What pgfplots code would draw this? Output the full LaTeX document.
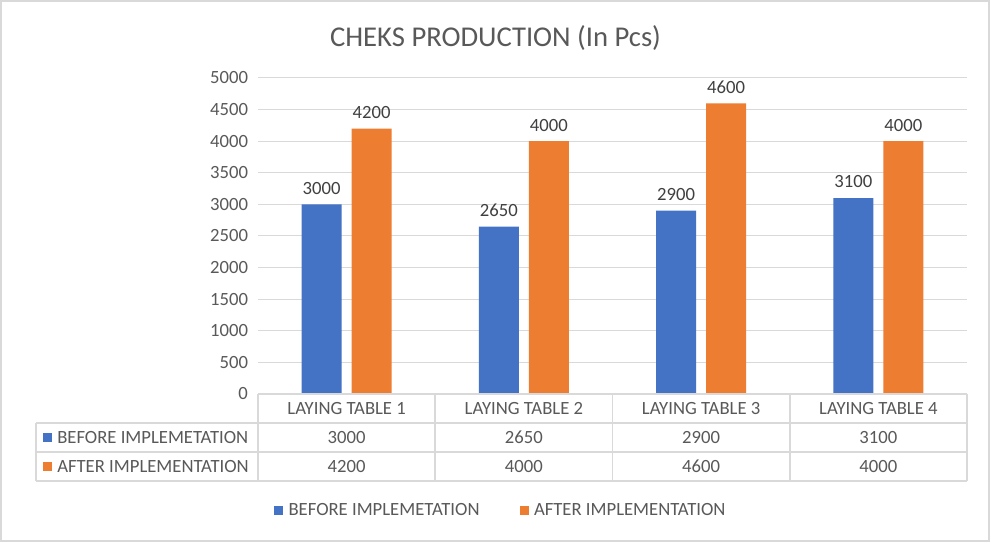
\documentclass[border=0pt]{standalone}
\usepackage{pgfplots}
\pgfplotsset{compat=1.18}
\usepackage{fontspec}
\setmainfont{Carlito}
\definecolor{cblue}{HTML}{4472C4}
\definecolor{corange}{HTML}{ED7D31}
\definecolor{ctext}{HTML}{595959}
\definecolor{cgrid}{HTML}{D9D9D9}
\definecolor{clab}{HTML}{404040}
\newcommand{\fs}{\fontsize{14}{16}\selectfont}
\begin{document}
\begin{tikzpicture}
\begin{scope}[x=0.75pt,y=0.75pt]
\useasboundingbox (0,0) rectangle (991,542);
\fill[white] (0,0) rectangle (991,542);
\draw[cgrid, line width=1.5pt] (1,1) rectangle (989,541);
\node[text=ctext, font=\fontsize{21.5}{24}\selectfont] at (495.5,504) {CHEKS PRODUCTION (In Pcs)};
\end{scope}
\begin{axis}[
  at={(193.5pt,111pt)}, anchor=south west,
  scale only axis, width=531.75pt, height=237pt,
  xmin=-0.5, xmax=3.5, ymin=0, ymax=5000,
  ybar=7.5pt, bar width=30pt,
  axis line style={draw=none},
  xtick=\empty,
  ytick={0,500,...,5000},
  ytick style={draw=none},
  ymajorgrids, grid style={cgrid, line width=0.75pt},
  yticklabel style={font=\fs, text=ctext, xshift=-4pt},
  /pgf/number format/assume math mode=true,
  /pgf/number format/1000 sep={},
  scaled y ticks=false,
  nodes near coords,
  nodes near coords style={font=\fs, text=clab, anchor=south, yshift=4pt},
  legend style={at={(0.343,-0.370)}, anchor=center, draw=none, fill=none,
    font=\fs, text=ctext, legend columns=2,
    /tikz/every even column/.append style={column sep=28pt}},
]
\addplot[fill=cblue, draw=none, legend image code/.code={\fill[cblue] (0pt,-3.4pt) rectangle (6.8pt,3.4pt);}]
  coordinates {(0,3000) (1,2650) (2,2900) (3,3100)};
\addlegendentry{\hspace{2pt}BEFORE IMPLEMETATION}
\addplot[fill=corange, draw=none, legend image code/.code={\fill[corange] (0pt,-3.4pt) rectangle (6.8pt,3.4pt);}]
  coordinates {(0,4200) (1,4000) (2,4600) (3,4000)};
\addlegendentry{\hspace{2pt}AFTER IMPLEMENTATION}
\end{axis}
\begin{scope}[x=0.75pt,y=0.75pt]
% data table
\draw[cgrid, line width=1.2pt] (258,148) -- (967,148);
\draw[cgrid, line width=1.2pt] (36,119) -- (967,119);
\draw[cgrid, line width=1.2pt] (36,90) -- (967,90);
\draw[cgrid, line width=1.2pt] (36,61) -- (967,61);
\foreach \xx in {258,435.25,612.5,789.75,967} \draw[cgrid, line width=1.2pt] (\xx,148) -- (\xx,61);
\draw[cgrid, line width=1.2pt] (36,119) -- (36,61);
\foreach \xx/\t in {346.6/1,523.9/2,701.1/3,878.4/4}
  \node[font=\fs, text=ctext] at (\xx,133.5) {LAYING TABLE \t};
\foreach \xx/\a/\b in {346.6/3000/4200,523.9/2650/4000,701.1/2900/4600,878.4/3100/4000}{
  \node[font=\fs, text=ctext] at (\xx,104.5) {\a};
  \node[font=\fs, text=ctext] at (\xx,75.5) {\b};
}
\fill[cblue] (43,100) rectangle (52,109);
\fill[corange] (43,71) rectangle (52,80);
\node[font=\fs, text=ctext, anchor=west, inner sep=0pt] at (57,104.5) {BEFORE IMPLEMETATION};
\node[font=\fs, text=ctext, anchor=west, inner sep=0pt] at (57,75.5) {AFTER IMPLEMENTATION};
\end{scope}
\end{tikzpicture}
\end{document}
